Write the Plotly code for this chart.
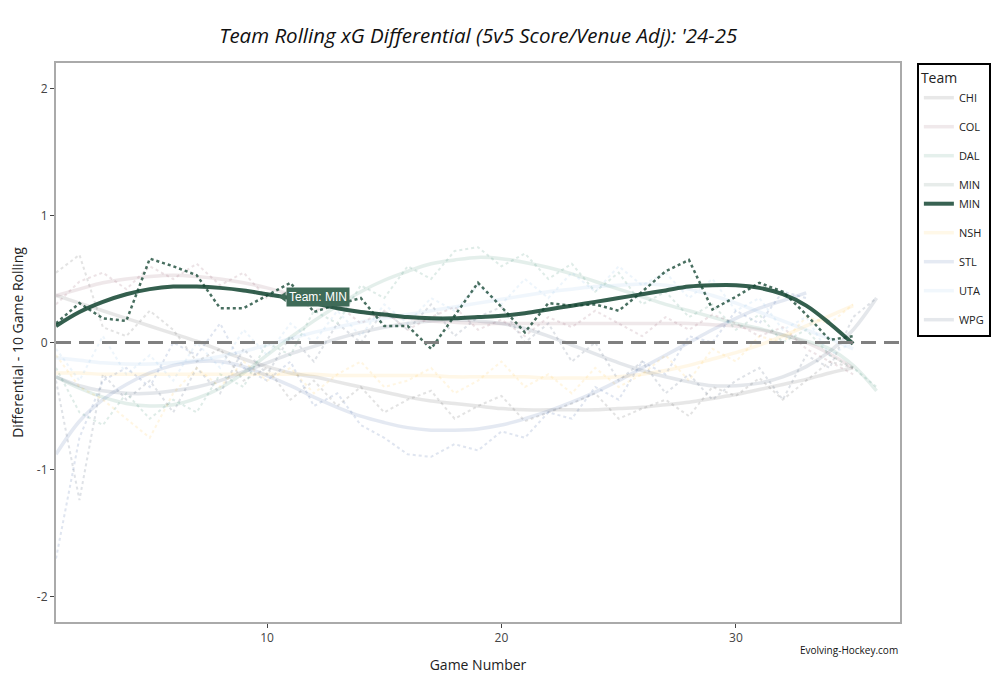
import numpy as np
import plotly.graph_objects as go

# smoothed rolling xG differential per team (one value per game)
CHI_smooth = [0.37, 0.31, 0.25, 0.19, 0.13, 0.07, 0.01, -0.06, -0.13, -0.19, -0.24, -0.27, -0.31, -0.35,
              -0.39, -0.43, -0.46, -0.48, -0.5, -0.52, -0.53, -0.53, -0.53, -0.53, -0.52, -0.51, -0.49,
              -0.47, -0.44, -0.41, -0.37, -0.33, -0.29, -0.24, -0.2]
COL_smooth = [0.37, 0.42, 0.47, 0.5, 0.52, 0.53, 0.52, 0.5, 0.47, 0.43, 0.38, 0.33, 0.28, 0.24, 0.21,
              0.19, 0.17, 0.16, 0.15, 0.15, 0.15, 0.15, 0.15, 0.15, 0.15, 0.15, 0.15, 0.15, 0.14, 0.13,
              0.1, 0.06, 0.0, -0.09, -0.2]
DAL_smooth = [-0.27, -0.36, -0.43, -0.48, -0.5, -0.49, -0.44, -0.36, -0.24, -0.1, 0.04, 0.17, 0.29, 0.4,
              0.49, 0.56, 0.62, 0.65, 0.67, 0.66, 0.63, 0.59, 0.54, 0.48, 0.42, 0.36, 0.3, 0.25, 0.2,
              0.15, 0.11, 0.06, 0.01, -0.05, -0.18, -0.38]
MIN_smooth = [0.13, 0.24, 0.32, 0.38, 0.42, 0.44, 0.44, 0.43, 0.41, 0.38, 0.35, 0.31, 0.27, 0.24, 0.22,
              0.2, 0.19, 0.19, 0.2, 0.21, 0.23, 0.26, 0.29, 0.32, 0.35, 0.38, 0.41, 0.44, 0.45, 0.45,
              0.43, 0.38, 0.29, 0.15, -0.01]
NSH_smooth = [-0.24, -0.24, -0.25, -0.25, -0.25, -0.25, -0.25, -0.25, -0.25, -0.25, -0.25, -0.25, -0.26,
              -0.26, -0.26, -0.26, -0.26, -0.27, -0.27, -0.27, -0.27, -0.28, -0.28, -0.28, -0.27, -0.25,
              -0.22, -0.18, -0.13, -0.08, -0.02, 0.05, 0.13, 0.21, 0.29]
STL_smooth = [-0.88, -0.62, -0.45, -0.33, -0.24, -0.18, -0.15, -0.15, -0.19, -0.26, -0.34, -0.43, -0.51,
              -0.58, -0.63, -0.67, -0.69, -0.69, -0.68, -0.65, -0.6, -0.54, -0.47, -0.39, -0.3, -0.2,
              -0.1, 0.0, 0.1, 0.19, 0.27, 0.33, 0.39]
UTA_smooth = [-0.12, -0.14, -0.16, -0.17, -0.17, -0.16, -0.14, -0.11, -0.07, -0.02, 0.03, 0.08, 0.12,
              0.16, 0.19, 0.22, 0.25, 0.28, 0.31, 0.34, 0.37, 0.4, 0.42, 0.44, 0.45, 0.46, 0.45, 0.42,
              0.37, 0.31, 0.24, 0.17, 0.1, 0.03, -0.05]
WPG_smooth = [-0.27, -0.34, -0.38, -0.4, -0.4, -0.38, -0.35, -0.3, -0.23, -0.16, -0.09, -0.03, 0.03, 0.08,
              0.12, 0.15, 0.17, 0.18, 0.17, 0.15, 0.11, 0.05, -0.02, -0.09, -0.16, -0.22, -0.27, -0.31,
              -0.34, -0.34, -0.32, -0.27, -0.19, -0.07, 0.1, 0.35]

# raw 10 game rolling values (dotted)
CHI_raw = [0.55, 0.69, 0.12, 0.05, 0.25, 0.1, -0.15, -0.05, -0.3, -0.2, -0.45, -0.3, -0.5, -0.35, -0.55,
           -0.45, -0.38, -0.6, -0.5, -0.42, -0.62, -0.55, -0.48, -0.4, -0.6, -0.52, -0.45, -0.58, -0.35,
           -0.42, -0.28, -0.45, -0.3, -0.15, -0.2]
COL_raw = [0.3, 0.48, 0.55, 0.42, 0.6, 0.5, 0.62, 0.45, 0.55, 0.35, 0.4, 0.25, 0.3, 0.15, 0.25, 0.1, 0.2,
           0.28, 0.1, 0.18, 0.05, 0.2, 0.12, 0.25, 0.15, 0.05, 0.2, 0.1, 0.22, 0.15, 0.05, 0.12, -0.05,
           -0.15, -0.25]
DAL_raw = [-0.2, -0.55, -0.65, -0.4, -0.6, -0.45, -0.55, -0.25, -0.35, 0.0, -0.1, 0.25, 0.15, 0.45, 0.35,
           0.6, 0.5, 0.72, 0.75, 0.6, 0.7, 0.5, 0.62, 0.4, 0.55, 0.3, 0.4, 0.2, 0.3, 0.1, 0.22, 0.0, 0.1,
           -0.1, -0.2, -0.35]
MIN_raw = [0.15, 0.31, 0.19, 0.17, 0.66, 0.6, 0.53, 0.27, 0.27, 0.37, 0.47, 0.24, 0.3, 0.35, 0.13, 0.13,
           -0.05, 0.21, 0.47, 0.28, 0.08, 0.31, 0.29, 0.3, 0.25, 0.4, 0.56, 0.65, 0.26, 0.36, 0.47, 0.4,
           0.22, 0.02, 0.05]
NSH_raw = [-0.1, -0.35, -0.45, -0.6, -0.75, -0.4, -0.2, -0.35, -0.15, -0.3, -0.2, -0.4, -0.25, -0.15,
           -0.35, -0.3, -0.2, -0.4, -0.3, -0.15, -0.35, -0.25, -0.4, -0.2, -0.35, -0.25, -0.1, -0.3,
           -0.05, -0.15, 0.05, 0.0, 0.2, 0.15, 0.3]
STL_raw = [-1.7, -0.75, -0.3, -0.2, -0.35, 0.0, -0.1, 0.15, -0.2, -0.3, -0.15, -0.5, -0.4, -0.65, -0.75,
           -0.88, -0.9, -0.8, -0.85, -0.7, -0.75, -0.55, -0.6, -0.35, -0.45, -0.15, -0.25, 0.05, 0.0,
           0.25, 0.15, 0.4, 0.35]
UTA_raw = [-0.05, -0.3, 0.05, -0.25, -0.1, -0.3, 0.0, -0.2, 0.1, -0.1, 0.15, 0.0, 0.25, 0.05, 0.3, 0.15,
           0.35, 0.25, 0.45, 0.3, 0.5, 0.35, 0.55, 0.4, 0.6, 0.45, 0.55, 0.35, 0.5, 0.25, 0.35, 0.1, 0.2,
           -0.1, 0.0]
WPG_raw = [-0.3, -1.24, -0.25, -0.45, -0.3, -0.55, -0.2, -0.4, -0.05, -0.25, 0.05, -0.15, 0.15, 0.0,
           0.25, 0.1, 0.3, 0.05, 0.2, 0.28, 0.0, 0.15, -0.15, 0.0, -0.3, -0.15, -0.4, -0.25, -0.45, -0.3,
           -0.2, -0.45, -0.1, -0.2, 0.2, 0.35]

teams = ['CHI', 'COL', 'DAL', 'MIN', 'NSH', 'STL', 'UTA', 'WPG']
smooth = {'CHI': CHI_smooth, 'COL': COL_smooth, 'DAL': DAL_smooth, 'MIN': MIN_smooth,
          'NSH': NSH_smooth, 'STL': STL_smooth, 'UTA': UTA_smooth, 'WPG': WPG_smooth}
raw = {'CHI': CHI_raw, 'COL': COL_raw, 'DAL': DAL_raw, 'MIN': MIN_raw,
       'NSH': NSH_raw, 'STL': STL_raw, 'UTA': UTA_raw, 'WPG': WPG_raw}
colors = {'CHI': '#222222', 'COL': '#6F263D', 'DAL': '#006847', 'MIN': '#154734',
          'NSH': '#FFB81C', 'STL': '#002F87', 'UTA': '#71AFE5', 'WPG': '#041E42'}

y_ticks = [-2, -1, 0, 1, 2]
y_tick_text = ['-2', '-1', '0', '1', '2']

highlight = 'MIN'
hover_game = 10.7

fig = go.Figure()

# faded lines for every team
for team in teams:
    games = list(range(1, len(smooth[team]) + 1))
    fig.add_trace(go.Scatter(x=games, y=raw[team], mode='lines', legendgroup=team, showlegend=False,
                             line=dict(color=colors[team], width=2, dash='dot'), opacity=0.12,
                             hoverinfo='skip'))
    fig.add_trace(go.Scatter(x=games, y=smooth[team], mode='lines', name=team, legendgroup=team,
                             line=dict(color=colors[team], width=3.5, shape='spline'), opacity=0.1,
                             hoverinfo='skip'))

# highlighted team on top
games = list(range(1, len(smooth[highlight]) + 1))
fig.add_trace(go.Scatter(x=games, y=raw[highlight], mode='lines', legendgroup=highlight, showlegend=False,
                         line=dict(color=colors[highlight], width=2.5, dash='dot'), opacity=0.75,
                         hoverinfo='skip'))
fig.add_trace(go.Scatter(x=games, y=smooth[highlight], mode='lines', name=highlight, legendgroup=highlight,
                         line=dict(color=colors[highlight], width=4, shape='spline'), opacity=0.85,
                         hoverinfo='skip'))

# static copy of the hover label
hover_y = float(np.interp(hover_game, games, smooth[highlight]))
fig.add_trace(go.Scatter(x=[hover_game], y=[hover_y], mode='markers', showlegend=False, hoverinfo='skip',
                         marker=dict(symbol='triangle-left', size=9, color='rgb(63,107,88)')))
fig.add_annotation(x=hover_game, y=hover_y, text='Team: MIN', showarrow=False, xanchor='left',
                   xshift=3, bgcolor='rgb(63,107,88)', borderpad=2,
                   font=dict(family='Arial', size=12, color='white'))

fig.add_shape(type='line', xref='paper', x0=0, x1=1, yref='y', y0=0, y1=0,
              line=dict(color='#808080', width=3, dash='15px,8px'))

fig.add_annotation(xref='paper', yref='paper', x=0.94, y=-0.066, xanchor='center',
                   text='Evolving-Hockey.com', showarrow=False, font=dict(size=10, color='#111111'))

fig.update_layout(
    width=1007, height=677,
    font=dict(family='Open Sans', color='#222222'),
    title=dict(text="<i>Team Rolling xG Differential (5v5 Score/Venue Adj): '24-25</i>",
               x=0.467, xanchor='center', y=0.97, font=dict(size=20.5, color='#111111')),
    margin=dict(l=48, r=115, t=55, b=63),
    plot_bgcolor='white', paper_bgcolor='white',
    xaxis=dict(range=[1, 37], dtick=10, showgrid=False, zeroline=False, showline=True, mirror=True,
               linecolor='#aaaaaa', linewidth=2, ticks='outside', ticklen=4, tickcolor='#444444',
               tickfont=dict(size=12, color='#444444'),
               title=dict(text='Game Number', font=dict(size=14))),
    yaxis=dict(range=[-2.2, 2.2], tickvals=y_ticks, ticktext=y_tick_text, showgrid=False,
               zeroline=False, showline=True, mirror=True, automargin=False,
               linecolor='#aaaaaa', linewidth=2, ticks='outside', ticklen=4, tickcolor='#444444',
               tickfont=dict(size=12, color='#444444'),
               title=dict(text='Differential - 10 Game Rolling', font=dict(size=14), standoff=14)),
    legend=dict(title=dict(text='Team', font=dict(size=14)), x=1.02, y=1, xanchor='left', yanchor='top',
                bordercolor='black', borderwidth=2, traceorder='grouped', tracegroupgap=10,
                font=dict(size=11)),
    showlegend=True,
)

fig.write_html("out.html")
